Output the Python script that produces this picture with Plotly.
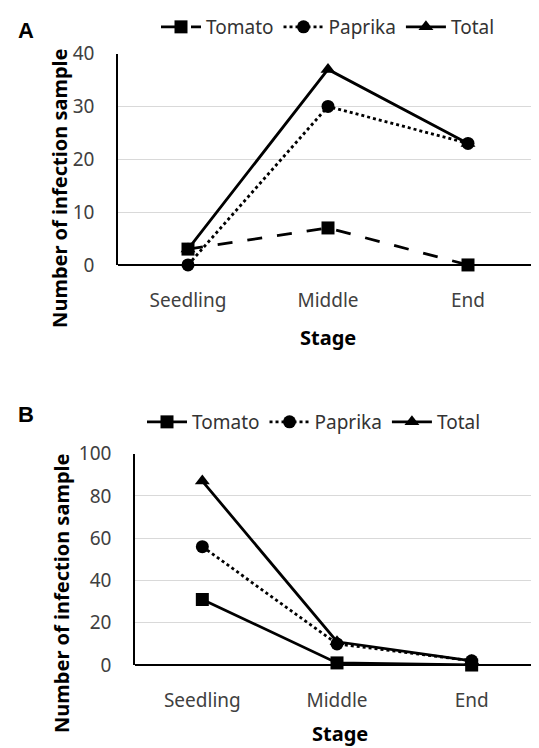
import plotly.graph_objects as go

stages = ["Seedling", "Middle", "End"]

a_tomato = [3, 7, 0]
a_paprika = [0, 30, 23]
a_total = [3, 37, 23]

b_tomato = [31, 1, 0]
b_paprika = [56, 10, 2]
b_total = [87, 11, 2]

# page body has an 8px margin, so the figure is drawn at (8, 8)
OFF = 8
W, H = 539 - OFF, 748 - OFF
def py(p):
    return 1 - (p - OFF) / H
def px(p):
    return min(1.0, (p - OFF) / W)

fig = go.Figure()

series_a = [
    ("Tomato", a_tomato, "longdash", "square"),
    ("Paprika", a_paprika, "dot", "circle"),
    ("Total", a_total, "solid", "triangle-up"),
]
series_b = [
    ("Tomato", b_tomato, "solid", "square"),
    ("Paprika", b_paprika, "dot", "circle"),
    ("Total", b_total, "solid", "triangle-up"),
]

for name, vals, dash, sym in series_a:
    fig.add_trace(go.Scatter(
        x=stages, y=vals, name=name, mode="lines+markers",
        line=dict(color="black", width=2.8, dash=dash),
        marker=dict(symbol=sym, size=13, color="black"),
        xaxis="x", yaxis="y", legend="legend", cliponaxis=False))

for name, vals, dash, sym in series_b:
    fig.add_trace(go.Scatter(
        x=stages, y=vals, name=name, mode="lines+markers",
        line=dict(color="black", width=2.8, dash=dash),
        marker=dict(symbol=sym, size=13, color="black"),
        xaxis="x2", yaxis="y2", legend="legend2", cliponaxis=False))

FAM = "Noto Sans, Open Sans, sans-serif"
tickfont = dict(family=FAM, size=19, color="#404040")
titlefont = dict(family=FAM, size=20, color="black")

common_x = dict(type="category", range=[-0.5, 2.5], showgrid=False, zeroline=False,
                showline=False, tickfont=tickfont, ticks="", ticklabelstandoff=22,
                automargin=False, fixedrange=True)
common_y = dict(showgrid=True, gridcolor="#d9d9d9", gridwidth=1, zeroline=True,
                zerolinecolor="black", zerolinewidth=1.5, showline=True, linecolor="black",
                linewidth=1.5, tickfont=tickfont, ticks="", ticklabelstandoff=18,
                automargin=False)

legfont = dict(family=FAM, size=19, color="#333333")

fig.update_layout(
    width=W, height=H,
    margin=dict(l=0, r=0, t=0, b=0),
    paper_bgcolor="white", plot_bgcolor="white",
    xaxis=dict(domain=[px(118), px(538)], anchor="y", **common_x),
    yaxis=dict(domain=[py(259), py(45)], anchor="x", range=[0, 40], dtick=10, **common_y),
    xaxis2=dict(domain=[px(135), px(539)], anchor="y2", **common_x),
    yaxis2=dict(domain=[py(664), py(450)], anchor="x2", range=[0, 100], dtick=20, **common_y),
    legend=dict(orientation="h", x=px(328), xanchor="center", y=py(18), yanchor="middle",
                font=legfont, bgcolor="rgba(0,0,0,0)", itemwidth=40, tracegroupgap=0),
    legend2=dict(orientation="h", x=px(314), xanchor="center", y=py(418), yanchor="middle",
                 font=legfont, bgcolor="rgba(0,0,0,0)", itemwidth=40, tracegroupgap=0),
    showlegend=True,
)

annots = [
    dict(text="<b>A</b>", x=px(26), y=py(22), font=dict(family="Arial, Liberation Sans", size=22, color="black")),
    dict(text="<b>B</b>", x=px(26), y=py(410), font=dict(family="Arial, Liberation Sans", size=22, color="black")),
    dict(text="<b>Number of infection sample</b>", x=px(60), y=py(182), textangle=-90, font=titlefont),
    dict(text="<b>Number of infection sample</b>", x=px(62), y=py(592), textangle=-90, font=titlefont),
    dict(text="<b>Stage</b>", x=px(328), y=py(332), font=titlefont),
    dict(text="<b>Stage</b>", x=px(340), y=py(733), font=titlefont),
]
for a in annots:
    fig.add_annotation(xref="paper", yref="paper", showarrow=False,
                       xanchor="center", yanchor="middle", **a)

fig.write_html("out.html")
